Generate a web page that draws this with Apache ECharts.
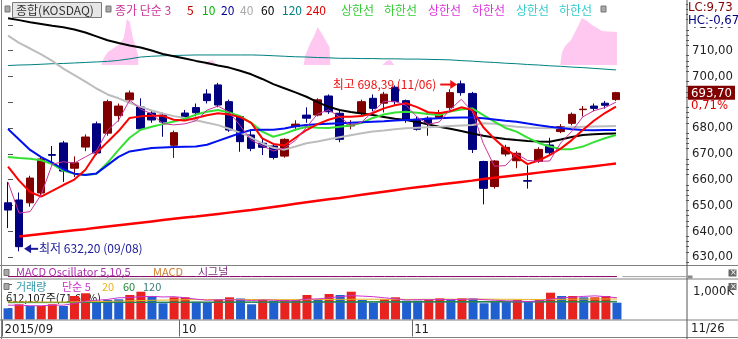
<!DOCTYPE html>
<html><head><meta charset="utf-8">
<script src="https://cdn.jsdelivr.net/npm/echarts@6/dist/echarts.min.js"></script>
<style>html,body{margin:0;padding:0;background:#fff}#c{width:738px;height:339px}</style>
</head><body><div id="c"></div>
<script>
// ---------------- DATA ----------------
const dates = ['09/07','09/08','09/09','09/10','09/11','09/14','09/15','09/16','09/17','09/18','09/21','09/22','09/23','09/24','09/25','09/30',
'10/01','10/02','10/05','10/06','10/07','10/08','10/12','10/13','10/14','10/15','10/16','10/19','10/20','10/21','10/22','10/23','10/26','10/27','10/28','10/29','10/30',
'11/02','11/03','11/04','11/05','11/06','11/09','11/10','11/11','11/12','11/13','11/16','11/17','11/18','11/19','11/20','11/23','11/24','11/25','11/26'];
const monthLabels = {'09':'2015/09','10':'10','11':'11'};
const opens  = [651.0,652.1,651.0,654.8,669.7,674.2,664.4,672.6,681.6,678.0,684.8,690.9,688.1,685.8,685.0,673.3,685.8,687.9,693.2,696.7,690.2,684.4,677.3,674.1,673.0,669.1,680.5,685.0,685.0,692.4,685.7,680.8,685.7,691.5,689.6,695.8,690.6,683.4,683.8,684.1,687.9,697.1,693.4,667.0,657.3,669.9,667.3,659.6,667.0,673.4,678.6,681.8,687.1,688.5,689.6,691.0];
const closes = [648.2,634.0,660.6,668.0,669.4,663.3,666.5,676.5,670.3,690.2,688.5,693.6,679.7,683.1,682.3,678.2,684.3,685.9,690.6,688.9,679.2,674.7,672.1,672.5,668.6,675.6,681.5,683.8,690.9,686.3,675.6,681.2,690.2,687.6,693.1,690.2,683.1,679.5,681.6,685.9,693.7,693.7,671.7,656.6,667.2,672.5,670.2,659.4,671.7,670.4,680.5,685.3,687.3,687.6,688.8,693.7];
const lows   = [641.2,632.2,649.5,653.5,666.5,659.1,661.0,671.0,669.5,677.0,682.5,689.5,679.0,682.0,676.6,668.4,683.0,684.5,689.5,688.0,678.5,670.8,671.0,669.5,667.8,668.5,679.0,682.0,684.5,685.5,674.5,679.5,685.0,686.5,686.0,689.0,682.0,679.0,677.0,683.5,687.0,692.5,670.3,650.4,656.5,669.0,664.4,656.5,666.5,669.5,678.0,681.0,684.5,686.5,687.5,690.5];
const highs  = [659.1,655.0,661.5,669.0,673.0,675.0,669.0,677.5,682.5,691.0,689.5,694.5,691.5,687.0,686.0,679.0,687.0,689.5,695.0,697.5,691.0,685.0,679.0,676.0,674.0,676.0,683.0,688.0,691.5,693.0,687.0,683.0,691.0,693.0,694.0,696.5,691.0,684.5,684.5,687.0,695.0,698.39,694.0,667.3,667.5,673.5,671.0,665.5,672.5,676.2,681.5,686.0,688.5,689.5,690.5,694.0];
const ma3   = [659.0,647.0,647.6,654.2,666.0,666.9,666.4,668.8,671.1,679.0,683.0,690.8,687.3,685.5,681.7,681.2,681.6,682.8,686.9,688.5,686.2,680.9,675.3,673.1,671.1,672.2,675.2,680.3,685.4,687.0,684.3,681.0,682.3,686.3,690.3,690.3,688.8,684.3,681.4,682.3,687.1,691.1,686.4,674.0,665.2,665.4,670.0,667.4,667.1,667.2,674.2,678.7,684.3,686.7,687.9,690.0];
const ma5   = [665.0,659.6,655.2,653.4,655.6,657.9,660.0,663.8,670.3,674.6,678.8,683.9,684.5,684.7,684.7,683.2,682.9,683.9,684.9,685.7,685.2,684.2,682.0,676.0,673.8,673.2,676.2,679.2,681.5,683.2,684.4,684.4,684.6,685.8,687.6,688.8,689.6,688.1,686.1,685.7,686.5,688.0,687.0,680.3,675.8,672.0,668.9,666.0,667.4,669.5,672.0,675.3,679.2,682.8,685.8,688.3];
const ma10  = [668.8,668.4,668.1,667.5,666.0,663.5,662.2,661.9,662.2,666.5,671.5,676.2,679.3,680.5,681.5,682.5,683.6,685.2,686.3,687.0,686.0,684.6,682.0,678.6,676.6,677.8,679.3,680.5,680.1,680.0,680.5,681.0,682.0,683.9,685.2,686.0,686.3,685.9,685.4,685.0,686.4,687.2,687.6,685.0,682.5,680.0,678.6,676.3,674.2,672.8,671.8,671.8,672.8,674.5,676.0,677.3];
const ma20  = [679.6,675.5,671.5,668.7,666.6,664.0,662.3,661.8,662.4,665.6,668.8,670.9,671.6,672.2,672.4,672.6,672.7,672.8,673.5,675.0,676.5,678.0,679.2,679.3,679.3,679.8,680.7,681.2,681.4,681.6,681.8,682.0,682.2,682.4,682.6,682.9,683.1,683.3,683.6,683.8,684.0,684.1,684.1,683.8,683.3,682.8,682.4,681.7,681.1,680.5,680.0,679.5,679.2,679.1,679.2,679.2];
const ma40  = [715.8,713.0,710.8,708.5,706.0,703.0,700.5,698.0,695.3,693.0,691.5,689.8,688.2,686.8,685.6,684.6,683.9,683.0,682.0,681.1,679.7,678.2,676.3,674.0,672.3,671.6,672.8,674.1,674.8,675.6,676.4,677.2,678.0,678.6,679.0,679.5,679.9,680.1,680.3,680.5,680.8,681.0,681.2,681.8,681.6,681.0,680.5,680.2,680.0,679.9,680.0,680.3,680.5,680.6,680.7,680.8];
const ma60  = [722.5,721.8,721.0,720.3,719.6,719.0,718.2,717.0,715.5,714.0,712.9,712.0,711.2,710.0,708.7,707.8,706.9,706.0,705.2,704.2,703.4,702.2,700.8,699.0,697.0,695.4,693.8,692.1,690.0,688.2,687.0,686.2,685.6,685.0,684.3,683.6,683.1,682.3,681.4,680.5,679.7,678.8,677.9,677.0,676.3,675.7,675.3,675.0,674.8,674.7,675.5,676.5,677.3,677.6,677.8,677.9];
const ma120 = [704.2,704.4,704.5,704.7,704.9,705.0,705.2,705.4,705.6,705.8,706.2,706.8,707.5,707.8,708.0,708.1,708.2,708.3,708.3,708.3,708.3,708.3,708.3,708.2,708.0,707.8,707.6,707.5,707.3,707.2,707.0,707.0,706.9,706.9,706.8,706.8,706.7,706.7,706.6,706.5,706.4,706.1,705.9,705.6,705.4,705.1,704.9,704.6,704.4,704.1,703.9,703.6,703.4,703.1,702.8,702.5];
const ma240 = [null,637.9,638.4,638.9,639.4,639.9,640.4,640.8,641.3,641.8,642.3,642.8,643.3,643.8,644.3,644.8,645.3,645.7,646.2,646.7,647.2,647.7,648.2,648.8,649.4,650.0,650.6,651.2,651.8,652.4,652.9,653.5,654.1,654.7,655.3,655.9,656.5,657.0,657.5,658.1,658.6,659.1,659.6,660.2,660.7,661.2,661.7,662.2,662.7,663.2,663.7,664.2,664.7,665.2,665.7,666.2];
// envelope bands (상한선 영역) read as outlines: [position in candles, value]
const bandBase = 704.42;
const band1 = [[8.44,704.42],[8.67,707.13],[9.03,709.46],[9.57,711.01],[10.11,712.56],[10.47,714.88],[10.75,722.25],[11.02,721.09],[11.29,714.88],[11.56,711.40],[11.78,707.91],[11.78,704.42]];
const band2 = [[26.73,704.42],[26.91,708.29],[27.27,712.17],[27.73,716.05],[28.0,719.15],[28.36,716.82],[28.72,714.11],[29.08,711.40],[29.17,704.42]];
const band3 = [[49.95,704.42],[50.13,709.46],[50.40,711.78],[50.94,714.11],[51.48,718.76],[51.93,722.64],[52.39,721.47],[52.84,719.92],[53.29,718.76],[53.74,717.60],[54.37,717.40],[55.09,717.21],[55.09,704.42]];
const band4 = [[17.79,704.42],[18.15,705.97],[18.51,706.36],[18.87,704.42]];
const band5 = [[33.87,704.42],[34.23,705.97],[34.59,706.36],[34.95,704.42]];
// volume (thousand shares)
const volume = [407,553,491,491,553,491,855,953,647,709,735,891,1011,855,589,807,807,647,636,709,807,764,553,709,673,709,709,891,735,927,891,1011,709,611,735,807,684,684,709,771,735,771,764,589,647,647,709,647,735,975,855,855,807,807,855,612];
const volUp  = [0,1,0,1,1,0,1,1,0,0,0,1,1,0,0,1,1,0,0,1,1,0,0,1,0,1,1,1,0,1,0,1,0,0,1,1,0,0,1,1,0,1,0,0,0,0,1,0,1,1,0,1,0,1,1,0];
const volMa5   = [520,520,500,500,520,520,580,670,700,730,790,800,830,840,820,830,790,740,700,720,720,710,690,710,700,680,690,740,750,790,830,870,850,830,790,750,710,720,720,730,720,730,750,720,700,680,670,650,680,740,790,810,840,860,830,790];
const volMa20  = [640,640,638,636,635,635,640,650,655,660,668,678,690,700,705,712,718,722,724,726,728,730,728,726,724,722,722,724,726,728,732,736,738,738,736,734,732,732,734,736,738,740,742,740,738,735,732,730,728,730,734,738,742,745,746,744];
const volMa60  = [620,620,621,622,622,623,624,625,626,627,628,629,630,631,632,633,634,635,636,637,638,639,640,641,642,643,644,645,646,647,648,648,649,649,650,650,651,651,652,652,653,653,654,654,655,655,656,656,657,657,658,658,659,659,660,660];
const volMa120 = [612,612,613,613,613,614,614,615,615,615,616,616,617,617,618,618,618,619,619,620,620,621,621,621,622,622,623,623,624,624,624,625,625,626,626,626,627,627,628,628,628,629,629,630,630,630,631,631,632,632,632,633,633,634,634,634];
const macdOsc  = [0,0,0,0,0,0,0,0,0,0,0,0,0,0,0,0,0,0,0,0,0,0,0,0,0,0,0,0,0,0,0,0,0,0,0,0,0,0,0,0,0,0,0,0,0,0,0,0,0,0,0,0,0,0,0,0];
const priceTicks = [630,640,650,660,670,680,690,700,710,720];
const priceLabelTicks = [630,640,650,660,670,680,700,710,720];
const minorTicks = [628,632,634,636,638,642,644,646,648,652,654,656,658,662,664,666,668,672,674,676,678,682,684,686,688,692,694,696,698,702,704,706,708,712,714,716,718,722,724,726,728];
const volTicks = [100,400,700,1000,1300];
const volLabelTicks = [1000];
const hiIdx = 41, hiVal = 698.39, loIdx = 1, loVal = 632.20;
const lcText = 'LC:9,73', hcText = 'HC:-0,67';
const lastVolText = '612,107주(71,60%)';

// ---------------- LAYOUT ----------------
const NARROW = "'Liberation Sans Narrow','DejaVu Sans Condensed',sans-serif";
const KRF = "'Noto Sans CJK KR',sans-serif";
const L = 2.5, W = 620, AXX = 687, OFF = AXX - (L + W);
const fmt = v => v.toFixed(2).replace('.', ',');
const N = dates.length;
const last = closes[N-1], prev = closes[N-2];
const pct = ((last/prev - 1)*100).toFixed(2).replace('.', ',') + '%';
const monthBounds = []; const monthText = {};
dates.forEach((d,i)=>{ const m=d.slice(0,2); if(i===0 || m!==dates[i-1].slice(0,2)){ monthBounds.push(i-0.5); monthText[i-0.5]=monthLabels[m]; }});

const chart = echarts.init(document.getElementById('c'), null, {renderer:'canvas', width:738, height:339});
const line = (name, data, color, width, extra) => Object.assign({type:'line', name, data, xAxisIndex:0, yAxisIndex:0, showSymbol:false, symbol:'none', silent:true,
  lineStyle:{color, width}, itemStyle:{color}}, extra||{});
const band = (data) => ({type:'line', data, xAxisIndex:1, yAxisIndex:0, symbol:'none', silent:true,
  lineStyle:{width:0, color:'#ffc8f0'}, areaStyle:{color:'#ffc8f0', opacity:1, origin:bandBase}});
const vline = (data, color) => ({type:'line', data, xAxisIndex:3, yAxisIndex:5, symbol:'none', silent:true, lineStyle:{color, width:1}});

const option = {
  animation:false,
  backgroundColor:'#ffffff',
  grid:[
    {left:L, top:0, width:W, height:265},
    {left:L, top:266, width:W, height:13},
    {left:L, top:279, width:W, height:40.5}
  ],
  xAxis:[
    {type:'category', gridIndex:0, data:dates, boundaryGap:true, show:false},
    {type:'value', gridIndex:0, min:-0.5, max:N-0.5, show:false},
    {type:'category', gridIndex:1, data:dates, boundaryGap:true, show:false},
    {type:'category', gridIndex:2, data:dates, boundaryGap:true, show:false},
    {type:'value', gridIndex:2, min:-0.5, max:N-0.5, position:'bottom',
      axisLine:{show:false}, splitLine:{show:false},
      axisTick:{show:true, customValues:monthBounds, length:17, lineStyle:{color:'#666'}},
      axisLabel:{show:true, customValues:monthBounds, formatter:v=>monthText[v]||'', align:'left', margin:4,
        padding:[0,0,0,2], color:'#222', fontFamily:NARROW, fontSize:13}}
  ],
  yAxis:[
    {type:'value', gridIndex:0, position:'right', offset:OFF, min:626.9, max:729.6, scale:true,
      axisLine:{show:false}, splitLine:{show:false},
      axisTick:{show:true, customValues:priceTicks, length:5, lineStyle:{color:'#555'}},
      axisLabel:{customValues:priceLabelTicks, formatter:v=>fmt(v), color:'#222', fontFamily:NARROW, fontSize:13, margin:6}},
    {type:'value', gridIndex:0, position:'right', offset:OFF, min:626.9, max:729.6, scale:true,
      axisLine:{show:false}, splitLine:{show:false},
      axisTick:{show:true, customValues:minorTicks, length:3, lineStyle:{color:'#555'}}, axisLabel:{show:false}},
    {type:'value', gridIndex:0, position:'right', offset:OFF, min:626.9, max:729.6, scale:true,
      axisLine:{show:false}, splitLine:{show:false}, axisTick:{show:false},
      axisLabel:{customValues:[last], formatter:v=>'{a|'+fmt(v)+'}', margin:2,
        rich:{a:{backgroundColor:'#800000', color:'#ffffff', fontFamily:NARROW, fontSize:13, padding:[1,4,0,3], width:40}}}},
    {type:'value', gridIndex:0, position:'right', offset:OFF, min:626.9, max:729.6, scale:true,
      axisLine:{show:false}, splitLine:{show:false}, axisTick:{show:false},
      axisLabel:{customValues:[last], formatter:()=>pct, margin:5, verticalAlign:'top', padding:[6,0,0,0],
        color:'#e00000', fontFamily:NARROW, fontSize:13}},
    {type:'value', gridIndex:1, min:-0.3, max:1.3, show:false},
    {type:'value', gridIndex:2, position:'right', offset:OFF, min:0, max:1473,
      axisLine:{show:false}, splitLine:{show:false},
      axisTick:{show:true, customValues:volTicks, length:4, lineStyle:{color:'#555'}},
      axisLabel:{customValues:volLabelTicks, formatter:v=>(v).toLocaleString('en-US')+'K', color:'#222', fontFamily:NARROW, fontSize:13, margin:6}}
  ],
  series:[
    line('MA240', ma240, '#ff0000', 2.5),
    line('MA120', ma120, '#008080', 1),
    band(band1), band(band2), band(band3), band(band4), band(band5),
    {type:'candlestick', name:'KOSDAQ', xAxisIndex:0, yAxisIndex:0, barWidth:8, silent:true,
      data: dates.map((d,i)=>[opens[i], closes[i], lows[i], highs[i]]),
      itemStyle:{color:'#800000', color0:'#000080', borderColor:'#800000', borderColor0:'#000080', borderColorDoji:'#800000', borderWidth:1}},
    line('MA60', ma60, '#000000', 2),
    line('MA40', ma40, '#bdbdbd', 2),
    line('MA10', ma10, '#33e033', 2),
    line('MA20', ma20, '#0010ee', 2),
    line('MA5', ma5, '#ff0000', 2),
    line('MA3', ma3, '#cc3399', 1),
    {type:'line', name:'MACD', data:macdOsc, xAxisIndex:2, yAxisIndex:4, symbol:'none', silent:true, lineStyle:{color:'#800060', width:1}},
    {type:'bar', name:'거래량', xAxisIndex:3, yAxisIndex:5, barWidth:9, silent:true,
      data: volume.map((v,i)=>({value:v, itemStyle:{color: volUp[i] ? '#e8221e' : '#1f5fd0'}}))},
    vline(volMa120, '#3a7a7a'),
    vline(volMa60, '#22883a'),
    vline(volMa20, '#e6b422'),
    vline(volMa5, '#cc33cc')
  ]
};
chart.setOption(option);

// ---------------- OVERLAY TEXT / FRAME ----------------
const candleSeries = 7;
const pHi = chart.convertToPixel({seriesIndex:candleSeries}, [hiIdx, hiVal]);
const pLo = chart.convertToPixel({seriesIndex:candleSeries}, [loIdx, loVal]);
const t = (text, x, y, fill, font, extra) => Object.assign({type:'text', x, y, z:100,
  style:{text, fill, font, align:'left', verticalAlign:'middle', textAlign:'left', textVerticalAlign:'middle'}}, extra||{});
const hl = (x1,y1,x2,y2,color,w) => ({type:'line', z:90, shape:{x1,y1,x2,y2}, style:{stroke:color, lineWidth:w||1}});
const sq = (x,y) => ({type:'rect', z:100, shape:{x, y, width:5, height:6}, style:{fill:'#a8a8a8', stroke:'#777', lineWidth:1}});
const K12 = "12px 'Noto Sans CJK KR'";
const K11 = "11px 'Noto Sans CJK KR'";
const N13 = "13px 'Liberation Sans Narrow','DejaVu Sans Condensed'";

const hiY = pHi[1] + 4, loY = pLo[1] - 2.5;
const graphic = [
  // frame
  hl(1.5,0,1.5,339,'#808080'),
  hl(0,265.5,738,265.5,'#808080'),
  hl(0,279,738,279,'#808080'),
  hl(0,320,738,320,'#808080'),
  hl(0,337.5,738,337.5,'#808080'),
  hl(AXX,0,AXX,339,'#555'),
  hl(L+W,276.6,AXX,276.6,'#a0a0a0'),
  {type:'rect', z:100, shape:{x:687.5,y:275.5,width:5,height:3}, style:{fill:'#888'}},
  // top legend
  sq(5,6),
  {type:'rect', z:99, shape:{x:12.5,y:2.5,width:89,height:15}, style:{fill:'#e6e6e6', stroke:'#7a7a7a', lineWidth:1}},
  t('종합(KOSDAQ)', 16, 10.5, '#333333', K12),
  sq(106,6),
  t('종가 단순 3', 115, 10.5, '#cc3399', K12),
  t('5', 187, 10.5, '#c00000', K12),
  t('10', 202, 10.5, '#00bb00', K12),
  t('20', 221, 10.5, '#000099', K12),
  t('40', 240, 10.5, '#aaaaaa', K12),
  t('60', 261, 10.5, '#000000', K12),
  t('120', 282, 10.5, '#008080', K12),
  t('240', 306, 10.5, '#e00000', K12),
  t('상한선', 341, 10.5, '#33cc33', K12),
  t('하한선', 384, 10.5, '#33cc33', K12),
  t('상한선', 428, 10.5, '#dd33dd', K12),
  t('하한선', 472, 10.5, '#dd33dd', K12),
  t('상한선', 516, 10.5, '#33cccc', K12),
  t('하한선', 559, 10.5, '#33cccc', K12),
  sq(601,6),
  // LC / HC
  {type:'rect', z:99, shape:{x:688,y:0,width:50,height:27}, style:{fill:'#ffffff'}},
  t(lcText, 688, 8, '#800000', N13),
  t(hcText, 688, 21, '#000080', N13),
  // high / low annotations
  t('최고 ' + fmt(hiVal) + ' (' + dates[hiIdx] + ')', pHi[0]-25, hiY, '#ee1111', K12, {style:{text:'최고 ' + fmt(hiVal) + ' (' + dates[hiIdx] + ')', fill:'#ee1111', font:K12, align:'right', verticalAlign:'middle', textAlign:'right', textVerticalAlign:'middle'}}),
  hl(pHi[0]-21, hiY, pHi[0]-9, hiY, '#ee1111', 2),
  {type:'polygon', z:100, shape:{points:[[pHi[0]-11,hiY-4.5],[pHi[0]-4,hiY],[pHi[0]-11,hiY+4.5]]}, style:{fill:'#ee1111'}},
  {type:'polygon', z:100, shape:{points:[[pLo[0]+12,loY-4.5],[pLo[0]+5,loY],[pLo[0]+12,loY+4.5]]}, style:{fill:'#1a1a9a'}},
  hl(pLo[0]+10, loY, pLo[0]+19, loY, '#1a1a9a', 2),
  t('최저 ' + fmt(loVal) + ' (' + dates[loIdx] + ')', pLo[0]+20, loY, '#1a1a9a', K12),
  // MACD row
  sq(4,269.5),
  t('MACD Oscillator 5,10,5', 16, 272, '#b030b0', K11),
  t('MACD', 153, 272, '#d08030', K11),
  t('시그널', 198, 272, '#803080', K11),
  {type:'rect', z:100, shape:{x:728.5,y:269.5,width:8,height:7}, style:{fill:'#666'}},
  t('×', 730, 273, '#ffffff', "8px 'DejaVu Sans'"),
  // volume row
  sq(4,283.5),
  t('거래량', 16, 286.5, '#3399aa', K11),
  t('단순 5', 62, 286.5, '#cc33cc', K11),
  t('20', 102, 286.5, '#e6b422', K11),
  t('60', 123, 286.5, '#22883a', K11),
  t('120', 143, 286.5, '#3a7a7a', K11),
  Object.assign(t(lastVolText, 6, 297.5, '#111111', K11), {z:0}),
  {type:'rect', z:100, shape:{x:728.5,y:283,width:8,height:7}, style:{fill:'#666'}},
  t('×', 730, 286.5, '#ffffff', "8px 'DejaVu Sans'"),
  // last date
  t(dates[N-1], 691, 329, '#222222', N13)
];
chart.setOption({graphic});
</script></body></html>
